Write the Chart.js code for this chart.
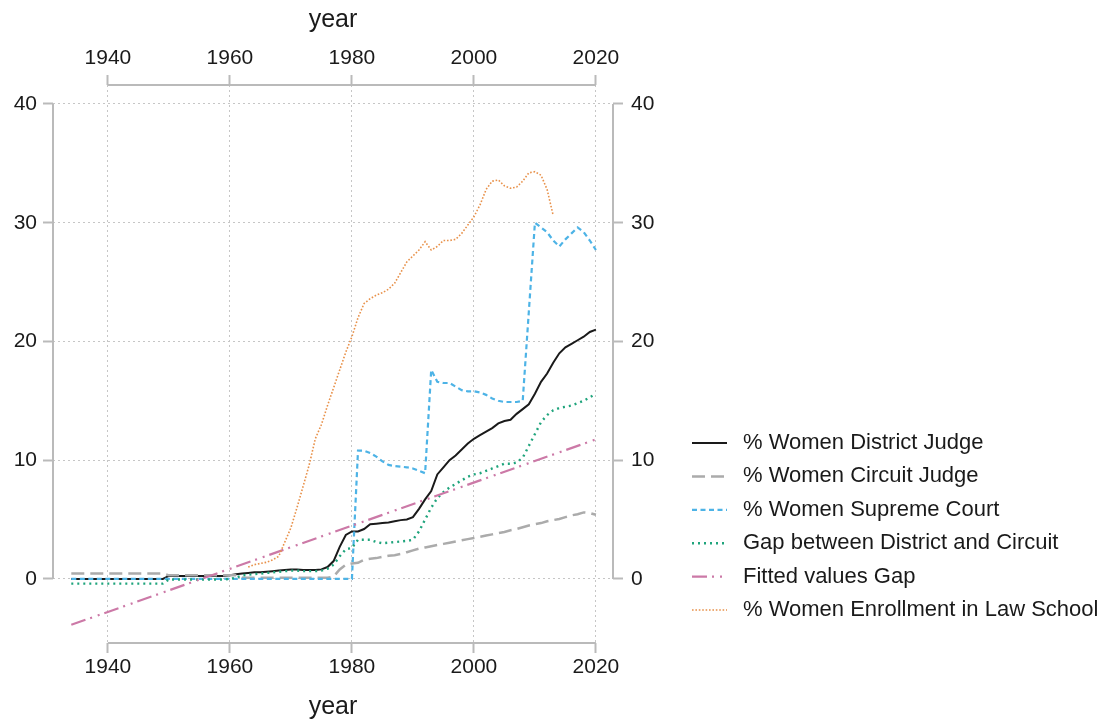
<!DOCTYPE html>
<html>
<head>
<meta charset="utf-8">
<script src="https://cdn.jsdelivr.net/npm/chart.js@4.4.1/dist/chart.umd.min.js"></script>
<style>
  html, body { margin: 0; padding: 0; background: #ffffff; }
  #wrap { width: 1106px; height: 722px; }
</style>
</head>
<body>
<div id="wrap"><canvas id="c" width="1106" height="722"></canvas></div>
<script>
// ---------------- DATA ----------------
const years = [1934,1935,1936,1937,1938,1939,1940,1941,1942,1943,1944,1945,1946,1947,1948,1949,
  1950,1951,1952,1953,1954,1955,1956,1957,1958,1959,
  1960,1961,1962,1963,1964,1965,1966,1967,1968,1969,
  1970,1971,1972,1973,1974,1975,1976,1977,1978,1979,
  1980,1981,1982,1983,1984,1985,1986,1987,1988,1989,
  1990,1991,1992,1993,1994,1995,1996,1997,1998,1999,
  2000,2001,2002,2003,2004,2005,2006,2007,2008,2009,
  2010,2011,2012,2013,2014,2015,2016,2017,2018,2019,
  2020];

const districtJudge = [0,0,0,0,0,0,0,0,0,0,0,0,0,0,0,0,
  0.25,0.25,0.25,0.25,0.25,0.25,0.25,0.25,0.25,0.25,
  0.3,0.4,0.45,0.5,0.55,0.55,0.6,0.65,0.7,0.75,
  0.8,0.8,0.75,0.75,0.75,0.8,1.0,1.5,2.7,3.7,
  4.0,4.0,4.2,4.6,4.65,4.7,4.75,4.85,4.95,5.0,
  5.2,5.9,6.7,7.4,8.8,9.4,10.0,10.4,10.9,11.4,
  11.8,12.1,12.4,12.7,13.1,13.3,13.4,13.9,14.3,14.7,
  15.6,16.6,17.3,18.2,19.0,19.5,19.8,20.1,20.4,20.8,
  21.0];

const circuitJudge = [0.45,0.45,0.45,0.45,0.45,0.45,0.45,0.45,0.45,0.45,0.45,0.45,0.45,0.45,0.45,0.45,
  0.3,0.3,0.3,0.3,0.3,0.3,0.3,0.3,0.3,0.3,
  0.3,0.3,0.1,0.1,0.1,0.1,0.1,0.1,0.1,0.1,
  0.1,0.1,0.1,0.1,0.1,0.1,0.1,0.2,0.8,1.2,
  1.3,1.35,1.6,1.7,1.75,1.85,1.95,2.0,2.1,2.25,
  2.4,2.55,2.65,2.75,2.85,2.95,3.05,3.15,3.25,3.35,
  3.45,3.55,3.65,3.75,3.85,3.95,4.1,4.2,4.35,4.5,
  4.6,4.7,4.85,4.95,5.05,5.2,5.35,5.45,5.6,5.55,
  5.4];

const supremeCourt = [0,0,0,0,0,0,0,0,0,0,0,0,0,0,0,0,
  0,0,0,0,0,0,0,0,0,0,
  0,0,0,0,0,0,0,0,0,0,
  0,0,0,0,0,0,0,0,0,0,
  0,10.8,10.8,10.6,10.3,9.9,9.6,9.5,9.45,9.4,
  9.3,9.1,8.9,17.6,16.6,16.5,16.5,16.2,15.9,15.8,
  15.8,15.7,15.5,15.2,15.0,14.9,14.9,14.9,15.0,22.5,
  30.0,29.6,29.2,28.5,28.0,28.6,29.1,29.6,29.2,28.5,
  27.7];

const gapDistrictCircuit = [-0.4,-0.4,-0.4,-0.4,-0.4,-0.4,-0.4,-0.4,-0.4,-0.4,-0.4,-0.4,-0.4,-0.4,-0.4,-0.4,
  -0.05,-0.05,-0.05,-0.05,-0.05,-0.05,-0.05,-0.05,-0.05,-0.05,
  0.0,0.1,0.3,0.35,0.4,0.45,0.5,0.55,0.6,0.65,
  0.7,0.7,0.65,0.65,0.65,0.7,0.85,1.2,1.9,2.5,
  2.6,3.3,3.3,3.3,3.1,3.0,3.05,3.1,3.15,3.2,
  3.3,4.0,5.0,6.0,6.8,7.3,7.7,8.0,8.3,8.6,
  8.8,8.9,9.1,9.3,9.5,9.7,9.7,9.8,10.2,11.2,
  12.2,13.2,13.8,14.2,14.4,14.5,14.6,14.8,15.0,15.3,
  15.6];

const fittedYears = [1934, 2020];
const fittedGap = [-3.87, 11.75];

const lawSchoolEnrollment = [null,null,null,null,null,null,null,null,null,null,null,null,null,null,null,null,
  null,null,null,null,null,null,null,null,null,null,
  null,null,null,1.0,1.2,1.3,1.4,1.6,1.9,3.1,
  4.3,6.0,7.8,9.6,11.8,13.0,14.6,16.1,17.6,19.1,
  20.4,22.0,23.2,23.6,23.9,24.1,24.4,24.9,25.8,26.7,
  27.2,27.7,28.4,27.7,28.0,28.5,28.5,28.6,29.1,29.8,
  30.5,31.5,32.8,33.5,33.6,33.1,32.9,33.0,33.5,34.2,
  34.3,34.0,32.8,30.6,null,null,null,null,null,null,
  null];

const xTickValues = [1940, 1960, 1980, 2000, 2020];
const yTickValues = [0, 10, 20, 30, 40];
const seriesLabels = [
  '% Women District Judge',
  '% Women Circuit Judge',
  '% Women Supreme Court',
  'Gap between District and Circuit',
  'Fitted values Gap',
  '% Women Enrollment in Law School'
];

// ---------------- STYLE / LAYOUT ----------------
const FONT = '"Liberation Sans", Arial, Helvetica, sans-serif';
const TEXT = '#1a1a1a';
const AXIS_GREY = '#bababa';
const GRID_GREY = '#c6c6c6';
const PLOT = { left: 53, right: 613, top: 85, bottom: 643 };
const W = 1106, H = 722;

function pts(xs, ys) { return xs.map((x, i) => ({ x: x, y: ys[i] })); }

const datasets = [
  { label: seriesLabels[0], data: pts(years, districtJudge), borderColor: '#1a1a1a', borderWidth: 2, borderDash: [], order: 5 },
  { label: seriesLabels[1], data: pts(years, circuitJudge), borderColor: '#ababab', borderWidth: 2.5, borderDash: [13, 6], order: 4 },
  { label: seriesLabels[2], data: pts(years, supremeCourt), borderColor: '#4db3e6', borderWidth: 2.2, borderDash: [5, 3.5], order: 3 },
  { label: seriesLabels[3], data: pts(years, gapDistrictCircuit), borderColor: '#1fa47c', borderWidth: 2.4, borderDash: [2, 4], order: 2 },
  { label: seriesLabels[4], data: pts(fittedYears, fittedGap), borderColor: '#cc79a7', borderWidth: 2.2, borderDash: [15, 5, 2, 6, 2, 5], order: 1 },
  { label: seriesLabels[5], data: pts(years, lawSchoolEnrollment), borderColor: '#e8914a', borderWidth: 1.6, borderDash: [1.6, 1.8], order: 0 }
];
datasets.forEach(d => { d.fill = false; d.pointRadius = 0; d.tension = 0; d.spanGaps = false; d.xAxisID = 'x'; d.yAxisID = 'y'; });

const tickFont = { family: FONT, size: 21 };
const titleFont = { family: FONT, size: 25 };

function fixedTicks(vals) { return function (s) { s.ticks = vals.map(v => ({ value: v })); }; }

// Stata-style axis lines spanning only the tick range
const axisLinesPlugin = {
  id: 'axisLines',
  afterDraw(chart) {
    const ctx = chart.ctx, a = chart.chartArea;
    const sx = chart.scales.x, sy = chart.scales.y;
    const x0 = sx.getPixelForValue(xTickValues[0]), x1 = sx.getPixelForValue(xTickValues[xTickValues.length - 1]);
    const y0 = sy.getPixelForValue(yTickValues[0]), y1 = sy.getPixelForValue(yTickValues[yTickValues.length - 1]);
    ctx.save();
    ctx.strokeStyle = AXIS_GREY; ctx.lineWidth = 2; ctx.setLineDash([]);
    ctx.beginPath();
    ctx.moveTo(x0, a.top); ctx.lineTo(x1, a.top);
    ctx.moveTo(x0, a.bottom); ctx.lineTo(x1, a.bottom);
    ctx.moveTo(a.left, y0); ctx.lineTo(a.left, y1);
    ctx.moveTo(a.right, y0); ctx.lineTo(a.right, y1);
    ctx.stroke();
    ctx.restore();
  }
};

// Legend at right, drawn from the datasets' own styles
const sideLegendPlugin = {
  id: 'sideLegend',
  afterDraw(chart) {
    const ctx = chart.ctx;
    const top = 443, step = 33.4, lx0 = 692, lx1 = 727, tx = 743;
    chart.data.datasets.forEach((ds, i) => {
      const y = top + i * step;
      ctx.save();
      ctx.strokeStyle = ds.borderColor;
      ctx.lineWidth = ds.borderWidth;
      ctx.setLineDash(ds.borderDash || []);
      ctx.beginPath(); ctx.moveTo(lx0, y); ctx.lineTo(lx1, y); ctx.stroke();
      ctx.restore();
      ctx.save();
      ctx.fillStyle = TEXT;
      ctx.font = '22px ' + FONT;
      ctx.textBaseline = 'middle';
      ctx.textAlign = 'left';
      ctx.fillText(ds.label, tx, y);
      ctx.restore();
    });
  }
};

const commonGrid = { color: GRID_GREY, lineWidth: 1, tickLength: 10, tickColor: AXIS_GREY, tickWidth: 2 };

new Chart(document.getElementById('c'), {
  type: 'line',
  data: { datasets: datasets },
  options: {
    responsive: false,
    animation: false,
    devicePixelRatio: 1,
    layout: { padding: { left: 0, top: 0, bottom: 0, right: W - PLOT.right - 70 } },
    plugins: { legend: { display: false }, tooltip: { enabled: false } },
    scales: {
      x: {
        type: 'linear', position: 'bottom', min: 1931, max: 2022.8,
        afterBuildTicks: fixedTicks(xTickValues),
        afterFit: s => { s.height = H - PLOT.bottom; },
        grid: Object.assign({}, commonGrid, { drawOnChartArea: true }),
        border: { display: false, dash: [2, 3] },
        ticks: { font: tickFont, color: TEXT, padding: 2, maxRotation: 0, callback: v => String(v) },
        title: { display: true, text: 'year', font: titleFont, color: TEXT, padding: { top: 0, bottom: 0 } }
      },
      x2: {
        type: 'linear', position: 'top', min: 1931, max: 2022.8,
        afterBuildTicks: fixedTicks(xTickValues),
        afterFit: s => { s.height = PLOT.top; },
        grid: Object.assign({}, commonGrid, { drawOnChartArea: false }),
        border: { display: false },
        ticks: { font: tickFont, color: TEXT, padding: 4, maxRotation: 0, callback: v => String(v) },
        title: { display: true, text: 'year', font: titleFont, color: TEXT, padding: { top: 5, bottom: 0 } }
      },
      y: {
        type: 'linear', position: 'left', min: -5.4, max: 41.6,
        afterBuildTicks: fixedTicks(yTickValues),
        afterFit: s => { s.width = PLOT.left; },
        grid: Object.assign({}, commonGrid, { drawOnChartArea: true }),
        border: { display: false, dash: [2, 3] },
        ticks: { font: tickFont, color: TEXT, padding: 6, callback: v => String(v) }
      },
      y2: {
        type: 'linear', position: 'right', min: -5.4, max: 41.6,
        afterBuildTicks: fixedTicks(yTickValues),
        afterFit: s => { s.width = 70; },
        grid: Object.assign({}, commonGrid, { drawOnChartArea: false }),
        border: { display: false },
        ticks: { font: tickFont, color: TEXT, padding: 8, callback: v => String(v) }
      }
    }
  },
  plugins: [axisLinesPlugin, sideLegendPlugin]
});
</script>
</body>
</html>
